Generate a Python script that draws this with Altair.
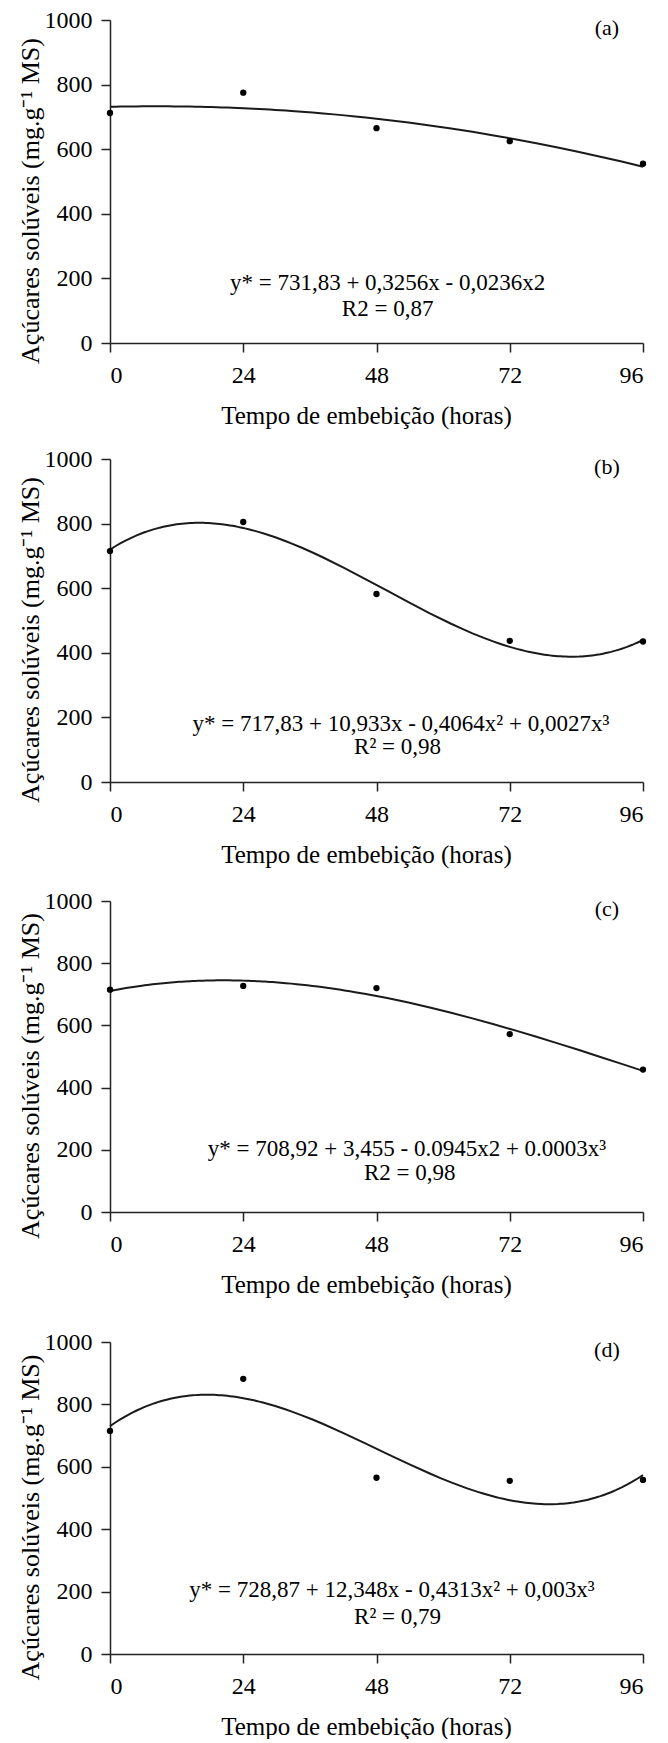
import altair as alt
import pandas as pd

# ---- data ----
hours = [0, 24, 48, 72, 96]
sugar_a = [712, 775, 665, 625, 555]
sugar_b = [715, 805, 582, 437, 435]
sugar_c = [715, 727, 720, 572, 458]
sugar_d = [715, 882, 565, 555, 558]

x_ticks = [0, 24, 48, 72, 96]
y_ticks = [0, 200, 400, 600, 800, 1000]

tags = ["(a)", "(b)", "(c)", "(d)"]
equations = [
    "y* = 731,83 + 0,3256x - 0,0236x2",
    "y* = 717,83 + 10,933x - 0,4064x² +  0,0027x³",
    "y* = 708,92 + 3,455 - 0.0945x2 + 0.0003x³",
    "y* = 728,87 + 12,348x - 0,4313x² + 0,003x³",
]
r2_texts = ["R2 = 0,87", "R² = 0,98", "R2 = 0,98", "R² = 0,79"]
orders = [2, 3, 3, 3]

X_TITLE = "Tempo de embebição (horas)"
Y_TITLE = "Açúcares solúveis (mg.g⁻¹ MS)"
FONT = "Liberation Serif"


def panel(vals, order, tag, eq, r2, eq_x, eq_y, r2_x, r2_y, height):
    df = pd.DataFrame({"x": hours, "y": vals})
    xenc = alt.X(
        "x:Q",
        scale=alt.Scale(domain=[0, 96], nice=False, zero=False),
        axis=alt.Axis(values=x_ticks, title=X_TITLE, format="d", titleX=256),
    )
    yenc = alt.Y(
        "y:Q",
        scale=alt.Scale(domain=[0, 1000], nice=False),
        axis=alt.Axis(
            values=y_ticks,
            title=Y_TITLE,
            format="d",
            titleX=-80,
            titleY=height / 2 + 19,
            titleBaseline="middle",
        ),
    )
    base = alt.Chart(df)
    pts = base.mark_circle(size=40, color="black", opacity=1).encode(x=xenc, y=yenc)
    line = (
        base.transform_regression("x", "y", method="poly", order=order, extent=[0, 96])
        .mark_line(color="#1a1a1a", strokeWidth=2)
        .encode(x="x:Q", y="y:Q")
    )
    one = pd.DataFrame({"k": [0]})
    txt_style = dict(font=FONT, fontSize=23, fontWeight="normal", color="black",
                     align="center", baseline="middle")
    tag_t = alt.Chart(one).mark_text(**dict(txt_style, fontSize=22)).encode(
        x=alt.datum(89.5), y=alt.datum(975), text=alt.value(tag)
    )
    eq_t = alt.Chart(one).mark_text(**txt_style).encode(
        x=alt.datum(eq_x), y=alt.datum(eq_y), text=alt.value(eq)
    )
    r2_t = alt.Chart(one).mark_text(**txt_style).encode(
        x=alt.datum(r2_x), y=alt.datum(r2_y), text=alt.value(r2)
    )
    return alt.layer(line, pts, tag_t, eq_t, r2_t).properties(width=533, height=height)


pa = panel(sugar_a, orders[0], tags[0], equations[0], r2_texts[0], 50, 186, 50, 105, 323)
pb = panel(sugar_b, orders[1], tags[1], equations[1], r2_texts[1], 52.4, 180, 51.8, 109, 323)
pc = panel(sugar_c, orders[2], tags[2], equations[2], r2_texts[2], 53.5, 203, 54, 125, 311)
pd_ = panel(sugar_d, orders[3], tags[3], equations[3], r2_texts[3], 50.8, 205, 51.8, 119, 312)

chart = alt.vconcat(
    alt.vconcat(alt.vconcat(pa, pb, spacing=19), pc, spacing=22), pd_, spacing=33
).properties(
    padding={"left": 8, "top": 0, "right": 5, "bottom": 0}
).configure_view(stroke=None).configure_axis(
    grid=False,
    domainColor="#222222",
    domainWidth=1.5,
    tickColor="#222222",
    tickWidth=1.5,
    tickSize=9,
    labelColor="black",
    titleColor="black",
    labelFont=FONT,
    titleFont=FONT,
    labelFontSize=24,
    titleFontSize=25,
    titleFontWeight="normal",
).configure_axisX(labelPadding=11, titlePadding=16).configure_axisY(
    labelPadding=9, titleFontSize=26
)

chart.save("out.html", embed_options={"renderer": "svg", "actions": False})
